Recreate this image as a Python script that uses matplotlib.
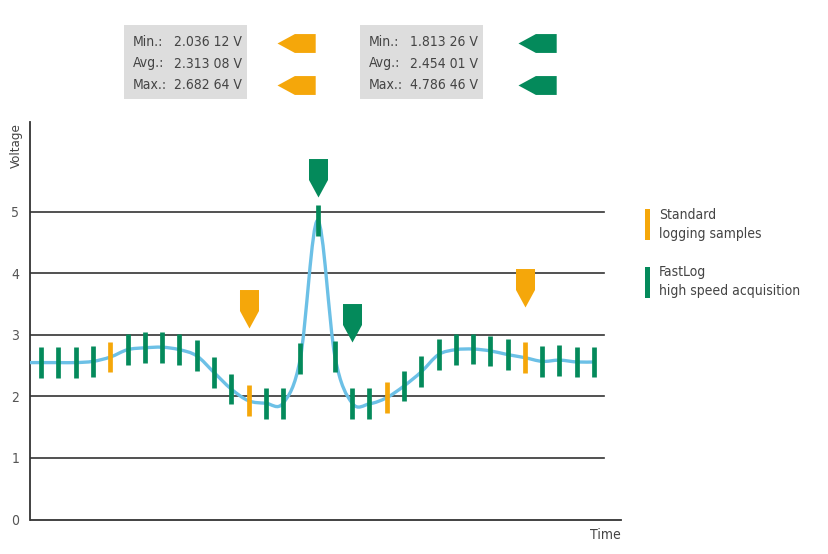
import numpy as np
import matplotlib.pyplot as plt
from matplotlib.path import Path
from matplotlib.patches import PathPatch, Rectangle

plt.rcParams['font.family'] = ['Liberation Sans Narrow', 'DejaVu Sans']
plt.rcParams['font.stretch'] = 'condensed'

# sampled voltage, one value per acquisition tick
sample_t = np.arange(33)
sample_v = [2.55, 2.55, 2.55, 2.57, 2.64, 2.76, 2.79, 2.80, 2.76, 2.66,
            2.39, 2.12, 1.93, 1.89, 1.89, 2.62, 4.86, 2.65, 1.89, 1.88,
            1.98, 2.17, 2.40, 2.68, 2.76, 2.77, 2.74, 2.68, 2.63, 2.57,
            2.59, 2.56, 2.56]
standard_idx = [4, 12, 20, 28]   # standard logging samples, rest are FastLog

# signal starts a little before the first sample
lead_t, lead_v = -0.62, 2.55

# min / max pointers on the chart
arrow_t = [12, 16, 18, 28]
arrow_v = [3.11, 5.24, 2.88, 3.45]
arrow_kind = ['std', 'fast', 'fast', 'std']

std_stats = [('Min.:', '2.036 12 V'), ('Avg.:', '2.313 08 V'), ('Max.:', '2.682 64 V')]
fast_stats = [('Min.:', '1.813 26 V'), ('Avg.:', '2.454 01 V'), ('Max.:', '4.786 46 V')]

GREEN = '#048a5b'
ORANGE = '#f5a70a'
BLUE = '#6cc0e6'
TXT = '#444444'
LINE = '#333333'

W, H = 829, 554
fig = plt.figure(figsize=(W / 100, H / 100), dpi=100)
ax = fig.add_axes([30.5 / W, 1 - 519.5 / H, (621 - 30.5) / W, (519.5 - 122) / H])

# smooth signal as a cardinal spline through the samples
pts = np.column_stack([np.r_[lead_t, sample_t], np.r_[lead_v, sample_v]])
verts = [pts[0]]
codes = [Path.MOVETO]
for i in range(len(pts) - 1):
    p0 = pts[max(i - 1, 0)]
    p1 = pts[i]
    p2 = pts[i + 1]
    p3 = pts[min(i + 2, len(pts) - 1)]
    verts += [p1 + (p2 - p0) / 6, p2 - (p3 - p1) / 6, p2]
    codes += [Path.CURVE4] * 3
ax.add_patch(PathPatch(Path(verts, codes), fill=False, ec=BLUE, lw=2.4,
                       zorder=3, capstyle='round', joinstyle='round'))

# grid lines
for g in range(1, 6):
    ax.axhline(g, xmin=0, xmax=0.971, color=LINE, lw=1.2, zorder=1)

# sample ticks
colors = [ORANGE if i in standard_idx else GREEN for i in sample_t]
v = np.array(sample_v)
ax.vlines(sample_t, v - 0.25, v + 0.25, colors=colors, lw=3.4, zorder=4)

# down-pointing pointers
down = Path([(0, 0), (0.247, 0.455), (0.247, 1), (-0.247, 1), (-0.247, 0.455), (0, 0)],
            [Path.MOVETO] + [Path.LINETO] * 4 + [Path.CLOSEPOLY])
for t, val, k in zip(arrow_t, arrow_v, arrow_kind):
    ax.plot(t, val, marker=down, ms=55.4, mew=0,
            color=ORANGE if k == 'std' else GREEN, zorder=5)

ax.set_xlim(-0.62, 33.56)
ax.set_ylim(0, 6.46)
ax.set_xticks([])
ax.set_yticks(range(6))
ax.tick_params(axis='y', length=0, pad=8, labelsize=10, labelcolor='#555555')
for s in ['top', 'right']:
    ax.spines[s].set_visible(False)
for s in ['left', 'bottom']:
    ax.spines[s].set_color(LINE)
    ax.spines[s].set_linewidth(1.3)
ax.patch.set_alpha(0)

fig.text(16 / W, 1 - 146 / H, 'Voltage', rotation=90, ha='center', va='center',
         fontsize=9.5, color=TXT)
fig.text(605 / W, 1 - 535 / H, 'Time', ha='center', va='center', fontsize=10, color=TXT)

# overlay in pixel coordinates for the stat boxes and legend
ov = fig.add_axes([0, 0, 1, 1], zorder=-1)
ov.set_xlim(0, W)
ov.set_ylim(H, 0)
ov.axis('off')

left = Path([(0, 0), (0.455, 0.247), (1, 0.247), (1, -0.247), (0.455, -0.247), (0, 0)],
            [Path.MOVETO] + [Path.LINETO] * 4 + [Path.CLOSEPOLY])
rows_y = [42.5, 63.5, 85]
for bx, stats, col, ax_x in [(124, std_stats, ORANGE, 277), (360, fast_stats, GREEN, 518)]:
    ov.add_patch(Rectangle((bx, 25), 123, 74, fc='#dddddd', ec='none'))
    for (lab, val), ry in zip(stats, rows_y):
        ov.text(bx + 8.5, ry, lab, ha='left', va='center', fontsize=10, color=TXT)
        ov.text(bx + 50.5, ry, val, ha='left', va='center', fontsize=10, color=TXT)
    for ry in [rows_y[0], rows_y[2]]:
        ov.plot(ax_x, ry, marker=left, ms=55, mew=0, color=col)

# legend
ov.add_patch(Rectangle((645, 209), 5, 31, fc=ORANGE, ec='none'))
ov.add_patch(Rectangle((645, 267), 5, 31, fc=GREEN, ec='none'))
ov.text(659, 215, 'Standard', ha='left', va='center', fontsize=10, color=TXT)
ov.text(659, 234, 'logging samples', ha='left', va='center', fontsize=10, color=TXT)
ov.text(659, 272, 'FastLog', ha='left', va='center', fontsize=10, color=TXT)
ov.text(659, 291, 'high speed acquisition', ha='left', va='center', fontsize=10, color=TXT)

fig.savefig('out.png', dpi=100)
